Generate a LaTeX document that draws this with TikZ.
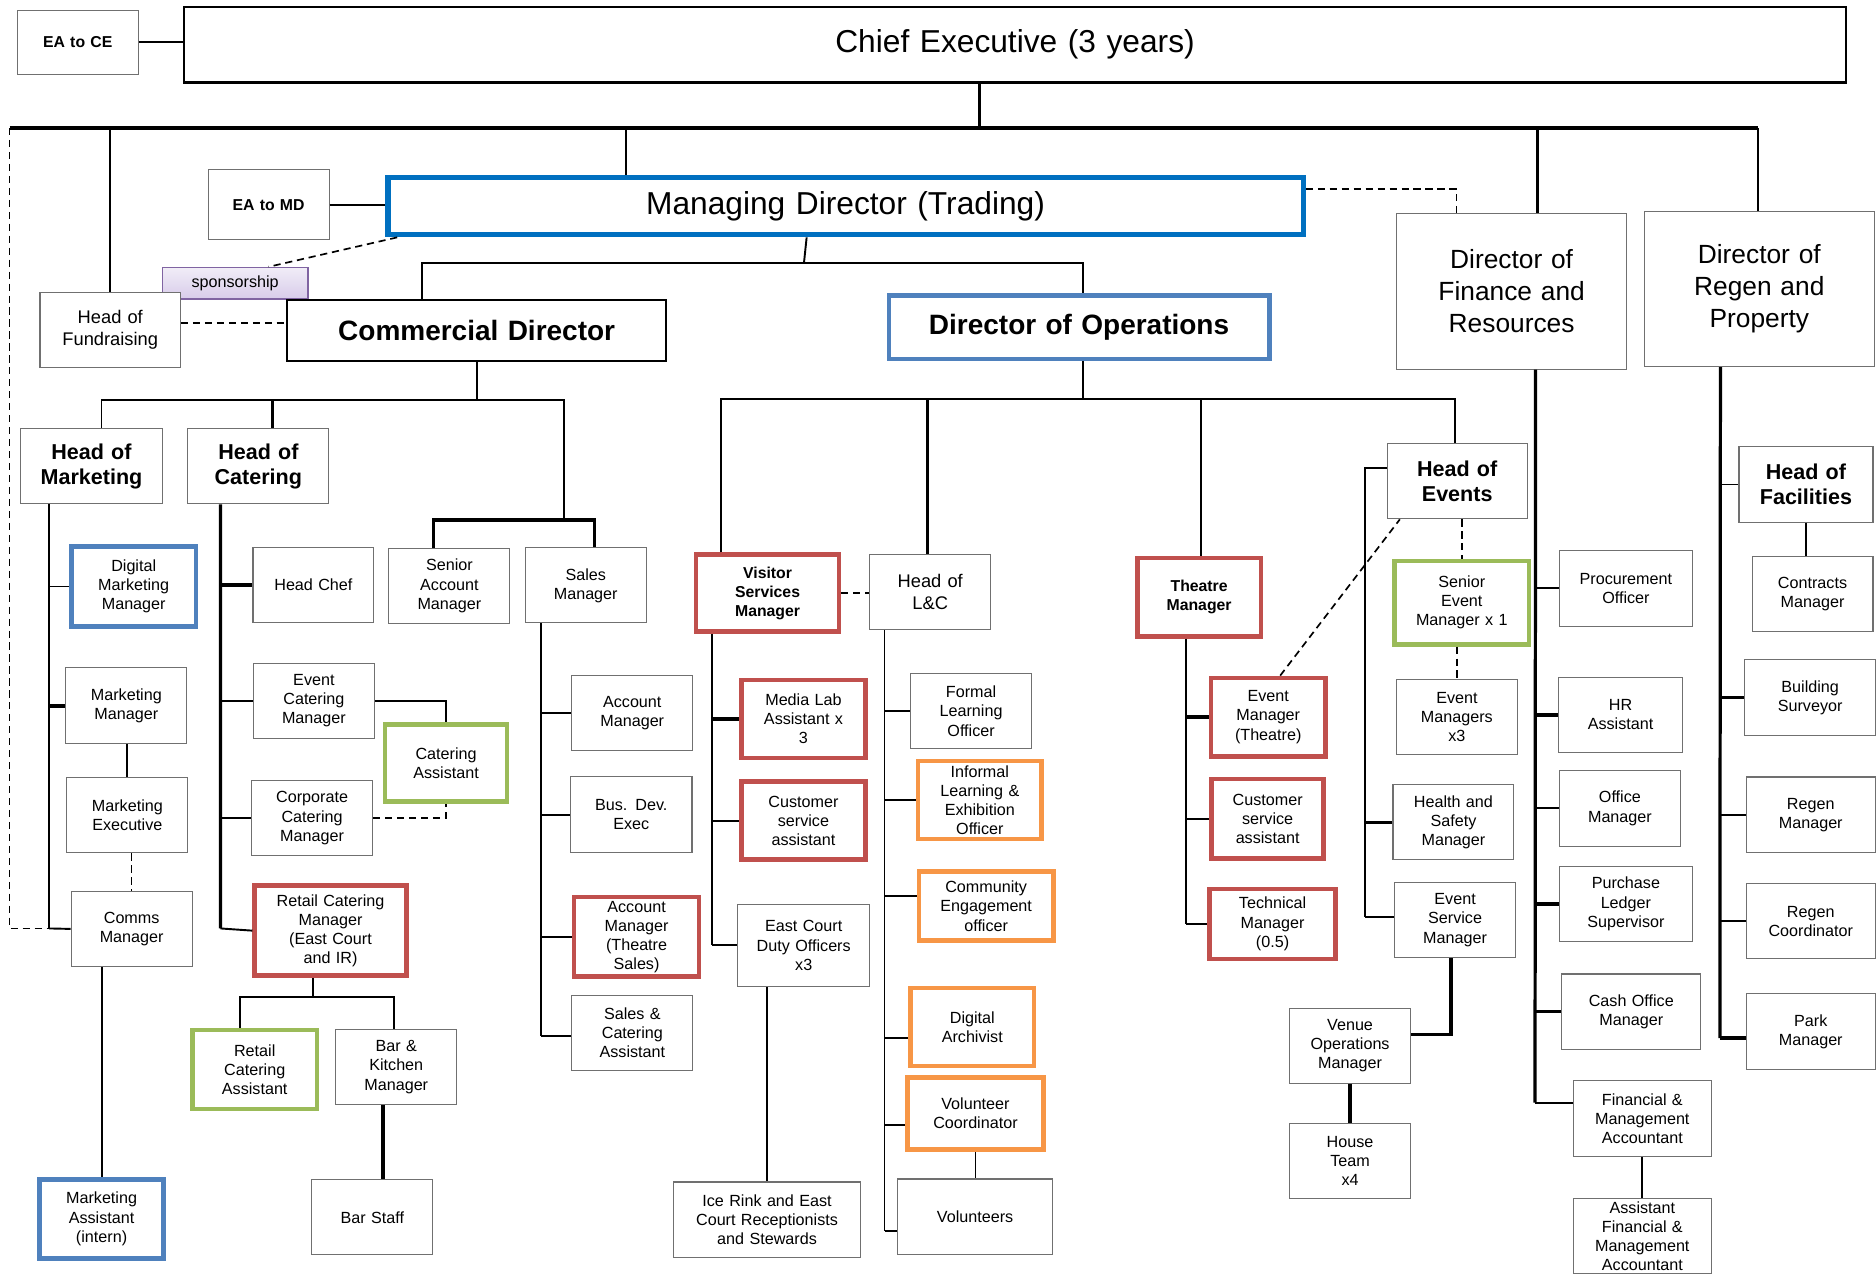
\documentclass[tikz,border=0pt]{standalone}
\usepackage{fontspec}
\setmainfont{Liberation Sans}
\usetikzlibrary{calc}
\definecolor{boxgray}{HTML}{707070}
\definecolor{cred}{HTML}{C0504D}
\definecolor{cgreen}{HTML}{9BBB59}
\definecolor{corange}{HTML}{F79646}
\definecolor{cblue}{HTML}{4F81BD}
\definecolor{mdblue}{HTML}{0070C0}
\definecolor{sponb}{HTML}{8064A2}
\definecolor{spontop}{HTML}{F1EDF7}
\definecolor{sponbot}{HTML}{D8CCEA}
\newcommand\fsS{\fontsize{13.5}{16}\selectfont}
\newcommand\fsBs{\fontsize{13.2}{16}\selectfont\bfseries}
\newcommand\fsF{\fontsize{15.3}{18.5}\selectfont}
\newcommand\fsH{\fontsize{18}{21}\selectfont\bfseries}
\newcommand\fsD{\fontsize{22}{26.5}\selectfont}
\newcommand\fsCD{\fontsize{23.4}{28}\selectfont\bfseries}
\newcommand\fsCE{\fontsize{26.5}{32}\selectfont}
\newcommand\orgbox[7][gbox]{%
  \pgfmathsetmacro\obw{#5-#3}%
  \pgfmathsetmacro\obh{#6-#4}%
  \pgfmathsetmacro\obt{#5-#3-2}%
  \node[#1, anchor=north west, minimum width=\obw pt, minimum height=\obh pt,
        text width=\obt pt, inner sep=0pt, align=center] (#2) at (#3,#4) {#7};%
}
\tikzset{
  gbox/.style={draw=boxgray, line width=0.9pt, fill=white, font=\fsS},
  kbox/.style={draw=black, line width=1.8pt, fill=white, font=\fsS},
  redb/.style={draw=cred, line width=3.8pt, fill=white, font=\fsS},
  greenb/.style={draw=cgreen, line width=3.8pt, fill=white, font=\fsS},
  orangeb/.style={draw=corange, line width=3.8pt, fill=white, font=\fsS},
  blueb/.style={draw=cblue, line width=3.8pt, fill=white, font=\fsS},
  mdb/.style={draw=mdblue, line width=4.4pt, fill=white, font=\fsS},
  spon/.style={draw=sponb, line width=1.4pt, top color=spontop, bottom color=sponbot, font=\fsS},
  ln/.style={line width=1.6pt, black},
  lnk/.style={line width=2.7pt, black},
  dsh/.style={line width=1.4pt, black, dash pattern=on 6pt off 4pt},
}
\begin{document}
\begin{tikzpicture}[x=1pt, y=-1pt]
\useasboundingbox (0,0) rectangle (1568,1065);
\fill[white] (0,0) rectangle (1568,1065);

% ---------- top level ----------
\orgbox[gbox,font=\fsBs]{eace}{14}{8}{115}{62}{EA to CE}
\orgbox[kbox,font=\fsCE]{ce}{153}{5}{1542}{68}{Chief Executive (3 years)}
\orgbox[gbox,font=\fsBs]{eamd}{173.5}{141.5}{274.6}{200}{EA to MD}
\orgbox[mdb,font=\fsCE]{md}{322}{146}{1087}{194}{Managing Director (Trading)}
\orgbox[spon]{spon}{135}{223}{256.7}{249}{sponsorship}
\orgbox[gbox,font=\fsF]{fund}{33}{244}{150.4}{307}{Head of\\Fundraising}
\orgbox[kbox,font=\fsCD]{cd}{239}{250}{556}{301}{Commercial Director}
\orgbox[blueb,font=\fsCD]{do}{741}{245}{1059}{298}{Director of Operations}
\orgbox[gbox,font=\fsD]{dfr}{1167}{178}{1359}{308}{Director of\\Finance and\\Resources}
\orgbox[gbox,font=\fsD]{drp}{1374}{176}{1566}{306}{Director of\\Regen and\\Property}

% ---------- commercial ----------
\orgbox[gbox,font=\fsH]{hom}{17}{357.5}{135}{420.7}{Head of\\Marketing}
\orgbox[gbox,font=\fsH]{hoc}{156.6}{357.5}{274.4}{420.7}{Head of\\Catering}
\orgbox{sam}{324.6}{457.8}{425.7}{520.6}{Senior\\Account\\Manager}
\orgbox{sm}{438.5}{457.5}{539.7}{520.2}{Sales\\Manager}
\orgbox[blueb]{dmm}{57.7}{455}{162}{521.6}{Digital\\Marketing\\Manager}
\orgbox{mm}{54.6}{557.8}{155.7}{621.3}{Marketing\\Manager}
\orgbox{me}{55.4}{649.2}{156.6}{712.4}{Marketing\\Executive}
\orgbox{comms}{59}{744.5}{160.2}{807.4}{Comms\\Manager}
\orgbox[blueb]{mas}{31.2}{984}{134.8}{1049.8}{Marketing\\Assistant\\(intern)}
\orgbox{chef}{211}{457}{312}{520}{Head Chef}
\orgbox{ecm}{211.2}{553.9}{312.6}{616.6}{Event\\Catering\\Manager}
\orgbox[greenb]{ca}{319.8}{603.8}{422}{667.8}{Catering\\Assistant}
\orgbox{ccm}{209.8}{652}{311}{714.6}{Corporate\\Catering\\Manager}
\orgbox[redb]{rcm}{211}{738.3}{337.7}{813.6}{Retail Catering\\Manager\\(East Court\\and IR)}
\orgbox[greenb]{rca}{159}{859}{263}{925}{Retail\\Catering\\Assistant}
\orgbox{bkm}{280.3}{859.8}{381.2}{923}{Bar \&\\Kitchen\\Manager}
\orgbox{bar}{260.2}{985.5}{361.4}{1048.4}{Bar Staff}
\orgbox{am}{477.3}{564.2}{578.7}{627.2}{Account\\Manager}
\orgbox{bde}{476.4}{648.9}{577.9}{712.4}{Bus. Dev.\\Exec}
\orgbox[redb]{amt}{478}{748}{582.3}{814.4}{Account\\Manager\\(Theatre\\Sales)}
\orgbox{sca}{477.5}{831.4}{578.7}{894.6}{Sales \&\\Catering\\Assistant}

% ---------- operations ----------
\orgbox[redb,font=\fsBs]{vsm}{580}{461.7}{699.3}{526}{Visitor\\Services\\Manager}
\orgbox[gbox,font=\fsF]{hlc}{726.6}{462.8}{827.5}{526}{Head of\\L\&C}
\orgbox[redb]{mla}{617.7}{566.4}{721.6}{631.6}{Media Lab\\Assistant x\\3}
\orgbox[redb]{csa}{617.7}{651.4}{721.6}{716.6}{Customer\\service\\assistant}
\orgbox{ecd}{616}{755.3}{726.6}{824.4}{East Court\\Duty Officers\\x3}
\orgbox{ice}{562.8}{987.5}{718.5}{1050.4}{Ice Rink and East\\Court Receptionists\\and Stewards}
\orgbox{flo}{760.9}{562.5}{861.5}{625.5}{Formal\\Learning\\Officer}
\orgbox[orangeb]{ileo}{765.4}{634.1}{868.7}{699.3}{Informal\\Learning \&\\Exhibition\\Officer}
\orgbox[orangeb]{ceo}{766.2}{726.6}{878.5}{784.3}{Community\\Engagement\\officer}
\orgbox[orangeb]{da}{759.2}{823.9}{862.3}{889}{Digital\\Archivist}
\orgbox[orangeb]{vc}{756.7}{898.8}{870.1}{959}{Volunteer\\Coordinator}
\orgbox{vol}{749.5}{985}{879.6}{1047.9}{Volunteers}
\orgbox[redb,font=\fsBs]{tm}{948.7}{464.5}{1052}{530}{Theatre\\Manager}
\orgbox[redb]{emt}{1010.2}{564.7}{1106}{630.2}{Event\\Manager\\(Theatre)}
\orgbox[redb]{cst}{1010.8}{649.2}{1104.4}{715.5}{Customer\\service\\assistant}
\orgbox[redb]{tech}{1009}{741}{1114.5}{799.6}{Technical\\Manager\\(0.5)}
\orgbox[gbox,font=\fsH]{hoe}{1159}{370}{1276}{433.2}{Head of\\Events}
\orgbox[greenb]{sem}{1163.8}{467}{1276}{536.6}{Senior\\Event\\Manager x 1}
\orgbox{em3}{1166.8}{567.5}{1267.7}{630.2}{Event\\Managers\\x3}
\orgbox{hsm}{1163.8}{655.3}{1264.9}{718.3}{Health and\\Safety\\Manager}
\orgbox{esm}{1165.2}{736.9}{1266.3}{800.2}{Event\\Service\\Manager}
\orgbox{vom}{1077.4}{842.2}{1178.5}{905}{Venue\\Operations\\Manager}
\orgbox{ht}{1077.4}{938.6}{1178.5}{1001.6}{House\\Team\\x4}

% ---------- finance ----------
\orgbox{po}{1303}{459.7}{1414}{523}{Procurement\\Officer}
\orgbox{hra}{1302}{565.6}{1406}{628.6}{HR\\Assistant}
\orgbox{om}{1303}{643.6}{1404}{706.8}{Office\\Manager}
\orgbox{pls}{1303}{723.6}{1414}{786.5}{Purchase\\Ledger\\Supervisor}
\orgbox{com}{1305}{813.6}{1421}{876.8}{Cash Office\\Manager}
\orgbox{fma}{1314.5}{902.8}{1430}{966}{Financial \&\\Management\\Accountant}
\orgbox{afma}{1314.5}{1001.5}{1430}{1064}{Assistant\\Financial \&\\Management\\Accountant}

% ---------- regen ----------
\orgbox[gbox,font=\fsH]{hof}{1453}{373}{1565}{436}{Head of\\Facilities}
\orgbox{cm}{1464}{464.5}{1565}{527.5}{Contracts\\Manager}
\orgbox{bs}{1458}{551}{1567}{614.4}{Building\\Surveyor}
\orgbox{rm}{1459}{649}{1567}{712}{Regen\\Manager}
\orgbox{rc}{1459}{738}{1567}{801}{Regen\\Coordinator}
\orgbox{pm}{1459}{830}{1567}{893.5}{Park\\Manager}

% ================= connectors =================
\coordinate (busL) at (8,107);
\coordinate (busR) at (1469,107);
\coordinate (tapMD) at (523,107);
\coordinate (tapF) at (1285,107);
\draw[ln] (eace.east) -- (eace.east -| ce.west);
\draw[lnk] (busL) -- (busR);
\draw[lnk] ([xshift=-30pt]ce.south) -- ([xshift=-30pt]ce.south |- busL);
\draw[ln] (fund.north |- busL) -- (fund.north);
\draw[ln] (tapMD) -- (tapMD |- md.north);
\draw[lnk] (tapF) -- (tapF |- dfr.north);
\draw[ln] (busR) -- (busR |- drp.north);

\coordinate (mkB) at (41,776);
\draw[dsh] (busL) |- (mkB);

\draw[ln] (eamd.east) -- (eamd.east -| md.west);
\draw[dsh] ([yshift=14pt]md.east) -| ([xshift=-46pt]dfr.north);
\draw[dsh] ([xshift=10pt]md.south west) -- ([xshift=28pt]spon.north);
\draw[dsh] ([yshift=6pt]fund.east) -- ([yshift=6pt]fund.east -| cd.west);

\coordinate (mdJ) at (672,219.5);
\draw[ln] ([xshift=-32.5pt]md.south) -- (mdJ);
\draw[ln] ([xshift=-45.5pt]cd.north) |- ([xshift=3pt]do.north |- mdJ) -- ([xshift=3pt]do.north);

% commercial
\coordinate (cdJ) at (397,334);
\coordinate (salesJ) at (471.4,434.6);
\draw[ln] (cd.south) -- (cd.south |- cdJ);
\draw[ln] ([xshift=8.4pt]hom.north) |- (salesJ |- cdJ) -- (salesJ);
\draw[lnk] ([xshift=11.5pt]hoc.north) -- ([xshift=11.5pt]hoc.north |- cdJ);
\draw[lnk] ([xshift=-13.2pt]sam.north) |- ([xshift=7.6pt]sm.north |- salesJ) -- ([xshift=7.6pt]sm.north);

% marketing
\draw[ln] ([xshift=24pt]hom.south west) -- (mkB);
\draw[ln] (mkB |- dmm.west) -- (dmm.west);
\draw[lnk] (mkB |- mm.west) -- (mm.west);
\draw[ln] (mkB) -- (comms.west);
\draw[ln] (me.north |- mm.south) -- (me.north);
\draw[dsh] ([xshift=3.5pt]me.south) -- ([xshift=3.5pt]me.south |- comms.north);
\draw[ln] (mas.north |- comms.south) -- (mas.north);

% catering
\coordinate (ctB) at (184.2,776);
\draw[lnk] ([xshift=27.6pt]hoc.south west) -- (ctB);
\draw[lnk] (ctB |- chef.west) -- (chef.west);
\draw[ln] (ctB |- ecm.west) -- (ecm.west);
\draw[ln] (ctB |- ccm.west) -- (ccm.west);
\draw[ln] (ctB) -- (rcm.west);
\draw[ln] (ecm.east) -| (ca.north);
\draw[dsh] (ccm.east) -| (ca.south);
\coordinate (rcJ) at (261.3,833);
\draw[ln] (rcJ |- rcm.south) -- (rcJ);
\draw[ln] ([xshift=-12.3pt]rca.north) |- ([xshift=-2pt]bkm.north |- rcJ) -- ([xshift=-2pt]bkm.north);
\draw[lnk] ([xshift=-11pt]bkm.south) -- ([xshift=-11pt]bkm.south |- bar.north);

% sales
\coordinate (slB) at (452.2,865.7);
\draw[ln] ([xshift=13.7pt]sm.south west) -- (slB);
\draw[ln] (slB |- am.west) -- (am.west);
\draw[ln] (slB |- bde.west) -- (bde.west);
\draw[ln] (slB |- amt.west) -- (amt.west);
\draw[ln] (slB) -- (slB -| sca.west);

% operations
\coordinate (doJ) at (903,333.5);
\draw[ln] ([xshift=3pt]do.south) -- ([xshift=3pt]do.south |- doJ);
\draw[ln] ([xshift=-39.3pt]vsm.north) |- ([xshift=-2pt]hoe.north |- doJ) -- ([xshift=-2pt]hoe.north);
\draw[lnk] ([xshift=-2.5pt]hlc.north) -- ([xshift=-2.5pt]hlc.north |- doJ);
\draw[ln] ([xshift=1.6pt]tm.north) -- ([xshift=1.6pt]tm.north |- doJ);
\draw[dsh] (vsm.east) -- (vsm.east -| hlc.west);

% visitor services
\coordinate (vsB) at (594.8,790);
\draw[ln] ([xshift=14.8pt]vsm.south west) -- (vsB);
\draw[lnk] (vsB |- mla.west) -- (mla.west);
\draw[ln] (vsB |- csa.west) -- (csa.west);
\draw[ln] (vsB) -- (vsB -| ecd.west);
\draw[ln] (ice.north |- ecd.south) -- (ice.north);

% learning & community
\coordinate (lcB) at (739.3,1028.6);
\coordinate (ceoB) at ($(ceo.west)+(0,-8.8)$);
\coordinate (daB) at ($(da.west)+(0,9.2)$);
\coordinate (vcB) at ($(vc.west)+(0,9.5)$);
\draw[ln] ([xshift=12.7pt]hlc.south west) -- (lcB);
\draw[ln] (lcB |- flo.west) -- (flo.west);
\draw[ln] (lcB |- ileo.west) -- (ileo.west);
\draw[ln] (lcB |- ceoB) -- (ceoB);
\draw[ln] (lcB |- daB) -- (daB);
\draw[ln] (lcB |- vcB) -- (vcB);
\draw[ln] (lcB) -- (lcB -| vol.west);
\draw[ln] (vc.south) -- (vc.south |- vol.north);

% theatre
\coordinate (thB) at (991,772);
\draw[ln] ([xshift=42.3pt]tm.south west) -- (thB);
\draw[lnk] (thB |- emt.west) -- (emt.west);
\draw[ln] (thB |- cst.west) -- (cst.west);
\draw[ln] (thB) -- (thB -| tech.west);
\draw[dsh] ([xshift=10pt]emt.north) -- ([xshift=11pt]hoe.south west);

% events
\coordinate (evB) at (1141.2,766.5);
\coordinate (hoeL) at ($(hoe.west)+(0,-11)$);
\coordinate (vomR) at ($(vom.east)+(0,-9.3)$);
\draw[ln] (hoeL) -| (evB);
\draw[lnk] (evB |- hsm.west) -- (hsm.west);
\draw[ln] (evB) -- (evB -| esm.west);
\draw[dsh] (sem.north |- hoe.south) -- (sem.north);
\draw[dsh] (em3.north |- sem.south) -- (em3.north);
\draw[lnk] ([xshift=-3.5pt]esm.south) |- (vomR);
\draw[lnk] (vom.south) -- (ht.north);

% finance
\coordinate (fiB) at (1283,921.6);
\draw[lnk] ([xshift=20pt]dfr.south) -- (fiB);
\draw[ln] (fiB |- po.west) -- (po.west);
\draw[lnk] (fiB |- hra.west) -- (hra.west);
\draw[ln] (fiB |- om.west) -- (om.west);
\draw[lnk] (fiB |- pls.west) -- (pls.west);
\draw[lnk] (fiB |- com.west) -- (com.west);
\draw[ln] (fiB) -- (fiB -| fma.west);
\draw[ln] (fma.south) -- (afma.north);

% regen
\coordinate (rgB) at (1437.5,867.6);
\draw[lnk] ([xshift=-32.5pt]drp.south) -- (rgB);
\draw[ln] (rgB |- hof.west) -- (hof.west);
\draw[ln] (hof.south) -- (hof.south |- cm.north);
\draw[lnk] (rgB |- bs.west) -- (bs.west);
\draw[ln] (rgB |- rm.west) -- (rm.west);
\draw[ln] (rgB |- rc.west) -- (rc.west);
\draw[lnk] (rgB) -- (rgB -| pm.west);
\end{tikzpicture}
\end{document}
